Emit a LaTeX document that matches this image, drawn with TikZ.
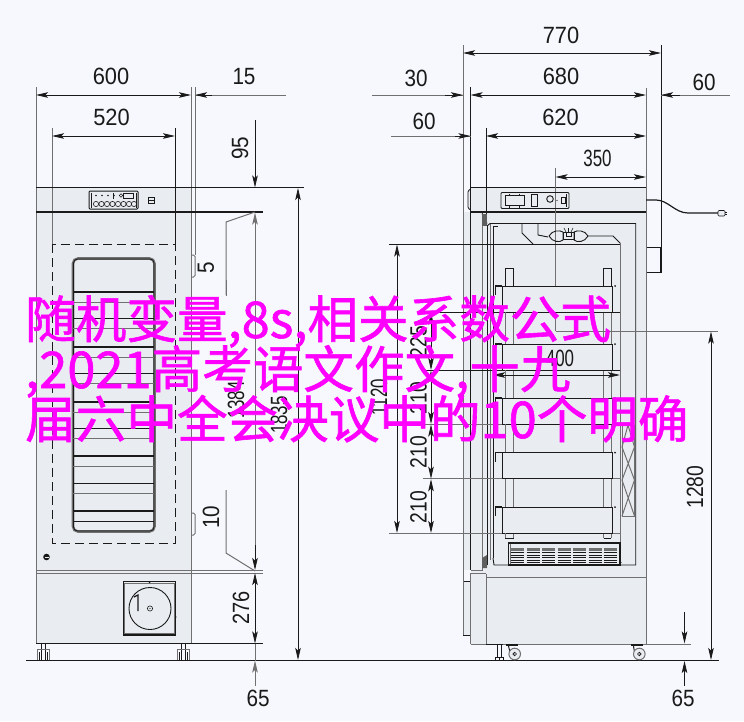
\documentclass[tikz,border=0pt]{standalone}
\usepackage{fontspec}
\usetikzlibrary{arrows.meta}
\newfontfamily\dimfont{Liberation Sans}
\newfontfamily\cjkfont[FakeBold=1.2]{Noto Sans CJK SC}
\definecolor{bgc}{HTML}{F6F8FD}
\definecolor{bodyc}{HTML}{E9EDF1}
\definecolor{inkc}{HTML}{1A1A1A}
\definecolor{grayc}{HTML}{707070}
\definecolor{magc}{HTML}{FF00FF}
\newcommand{\dimtxt}[2][.93]{\scalebox{#1}[1]{\dimfont\fontsize{23.5}{24}\selectfont #2}}
\tikzset{
  x=1pt,y=-1pt,
  ink/.style={draw=inkc,line width=.9pt},
  inkthick/.style={draw=inkc,line width=2pt},
  gline/.style={draw=grayc,line width=1pt},
  fine/.style={draw=inkc,line width=.6pt},
  bodyfill/.style={fill=bodyc,draw=none},
  darr/.style={draw=inkc,line width=.8pt,{Stealth[length=12pt,width=5.5pt,inset=2.5pt]}-{Stealth[length=12pt,width=5.5pt,inset=2.5pt]}},
  arrend/.style={draw=inkc,line width=.8pt,-{Stealth[length=12pt,width=5.5pt,inset=2.5pt]}},
  garrend/.style={draw=grayc,line width=.9pt,-{Stealth[length=12pt,width=5.5pt,inset=2.5pt]}},
  dimlabel/.style={inner sep=0pt,text=inkc},
  vlabel/.style={inner sep=0pt,text=inkc,rotate=90},
  overlay text/.style={inner sep=0pt,anchor=base west,text=magc,font=\cjkfont\fontsize{50.6}{53}\selectfont},
}
\begin{document}
\begin{tikzpicture}
\useasboundingbox (0,0) rectangle (744,721);
\fill[bgc] (0,0) rectangle (744,721);

%% ---------- LEFT VIEW: bodies ----------
\fill[bodyfill] (36,187.5) rectangle (191,643.5);
% extension lines
\draw[gline] (36,87) -- (36,643.5);
\draw[gline] (52,128) -- (52,244);
\draw[ink] (175,128) -- (175,244);
\draw[gline] (191,87) -- (191,643.5);
\draw[gline] (195,87) -- (195,255);
% handles
\draw[gline,rounded corners=1.5pt] (191,255) -- (195,255) -- (195,277) -- (191,277);
\draw[gline,rounded corners=1.5pt] (191,513) -- (195,513) -- (195,535) -- (191,535);
% horizontal body lines
\draw[ink] (36,187.5) -- (304,187.5);
\draw[inkthick] (36,212) -- (263,212);
\draw[gline] (36,570) -- (263,570);
\draw[gline] (36,573) -- (263,573);
\draw[ink] (36,643.5) -- (263,643.5);
% dashed
\draw[fine,line width=.8pt,dash pattern=on 9pt off 5pt] (52,244) rectangle (175,543);
% window
\draw[draw=grayc,line width=2.6pt,rounded corners=5pt] (73,258.5) rectangle (154.5,531.5);
\draw[draw=inkc,line width=.8pt,rounded corners=4pt] (73.5,259) rectangle (154,531);
\foreach \y in {292,347,402,456,511}{
  \draw[inkc,line width=1.2pt] (73,\y) -- (154,\y);
  \draw[grayc,line width=.8pt] (73,\y+10) -- (154,\y+10);
}
\foreach \y in {318,373,428,483}{
  \draw[ink] (73,\y) -- (154,\y);
  \draw[grayc,line width=.8pt] (73,\y+10) -- (154,\y+10);
}
\draw[ink] (73,521) -- (154,521);
% panel
\draw[draw=inkc,line width=1pt,rounded corners=1pt,fill=bodyc] (89,191) rectangle (138,209);
\draw[fine] (91,192.5) -- (91,207.5) (136,192.5) -- (136,207.5);
\foreach \x in {96,102,108,114}{\fill[inkc] (\x,195.5) circle (.8);}
\draw[fine] (113.5,193) -- (113.5,199);
\draw[fine] (121,195.5) circle (1.8);
\draw[fine] (123.5,193) rectangle (133.5,198.5);
\foreach \x in {96,101.5,107,112.5,118,123.5,129,134}{\draw[fine] (\x,204) circle (2.6);}
\draw[fine] (148.5,197) rectangle (154,203.5) (148.5,200) -- (154,200);
% screw
\fill[inkc] (46.5,557) circle (3.3);
\fill[bodyc] (44.5,556.5) rectangle (48.5,557.5);
% door lower square
\draw[draw=inkc,line width=1.2pt] (123.5,581.5) rectangle (175.5,635);
\draw[draw=grayc,line width=.8pt] (124.8,583) rectangle (174.2,633.5);
\draw[ink] (150,608.5) circle (21);
\draw[fine] (150,608.5) circle (2.6);
\fill[inkc] (150,608.5) circle (.7);
\draw[draw=inkc,line width=1.2pt] (134,597) -- (138,595) -- (138,611);
\fill[inkc] (149.5,582) circle (1);
\fill[inkc] (176,617) circle (.7);
% feet
\foreach \x in {43.5,183}{
  \draw[fine] (\x-2,644) -- (\x-2,660) (\x+2,644) -- (\x+2,660);
  \draw[draw=grayc,line width=.8pt] (\x-6,649) rectangle (\x+6,660);
  \draw[fine] (\x-4,652) -- (\x-4,660) (\x+4,652) -- (\x+4,660);
}
% floor
\draw[ink] (26,660.5) -- (719,660.5);
% left view dimensions
\draw[darr] (36,95) -- (191,95);
\draw[gline] (195,95) -- (286,95);
\draw[arrend] (212,95) -- (195,95);
\draw[darr] (52,136) -- (175,136);
\draw[arrend] (255,120) -- (255,187.5);
\draw[garrend] (255,240) -- (255,212.5);
\draw[gline] (255,240) -- (255,560);
\draw[arrend] (255,545) -- (255,570);
\draw[darr] (255,573) -- (255,643.5);
\draw[gline] (255,643.5) -- (255,660.5);
\draw[garrend] (255,686) -- (255,660.5);
\draw[arrend] (298,200) -- (298,188);
\draw[arrend] (298,200) -- (298,660);
\draw[gline] (255,212) -- (226,222) -- (226,295);
\draw[gline] (226,490) -- (226,553) -- (255,571);
\draw[gline] (226,280) -- (226,296);

%% ---------- RIGHT VIEW ----------
\fill[bodyfill] (470.5,187.5) rectangle (646,644);
\fill[bodyfill] (463,212) rectangle (470.5,635);
\fill[bgc] (463,570) rectangle (470.5,581);
\draw[ink] (463,581) -- (470.5,581);
\draw[ink] (463,635) -- (470.5,635);
% cabinet top
\draw[ink] (470.5,187.5) -- (646,187.5);
\draw[inkthick] (470.5,212) -- (646,212);
\draw[draw=inkc,line width=.8pt,rounded corners=1pt,fill=bodyc] (470.5,189) -- (468,191) -- (468,208) -- (470.5,210);
% vertical extension lines
\draw[gline] (463,45) -- (463,635);
\draw[ink] (661,45) -- (661,272.5);
\draw[ink] (470.5,87) -- (470.5,570);
\draw[gline] (646,88) -- (646,644);
\draw[ink] (486,128) -- (486,224);
\draw[gline] (555.5,168) -- (555.5,331);
\draw[gline] (646,168) -- (646,187);
% door
\draw[gline] (482,213) -- (482,570) -- (470.5,570);
\draw[gline] (470.5,573) -- (470.5,644);
\draw[gline] (486,574) -- (486,644);
\draw[draw=grayc,line width=1pt] (470.5,573) -- (486,573);
\draw[gline] (486,577) -- (646,577);
\draw[gline] (470.5,644) -- (646,644);
\draw[gline] (646,644) -- (691,644);
\draw[ink] (486,644) -- (495,644);
% panel
\draw[draw=inkc,line width=.9pt,rounded corners=1pt] (501,192.5) rectangle (569,208.5);
\draw[draw=inkc,line width=.9pt] (505,195.5) rectangle (524,205.5);
\draw[fine] (509,193.5) -- (509,195.5) (519,193.5) -- (519,195.5) (509,205.5) -- (509,207.5) (519,205.5) -- (519,207.5);
\draw[draw=inkc,line width=.9pt] (531,194.5) rectangle (537.5,206);
\draw[ink] (550,199) circle (3.3);
\fill[inkc] (557,200.5) circle (.7);
\draw[fine] (561,197.5) rectangle (565,203.5);
\draw[fine] (566.5,194) -- (566.5,207);
% cord
\draw[draw=inkc,line width=1.2pt] (646,200) -- (656,200) .. controls (668,200) and (675,213) .. (688,213) -- (718,213);
\draw[fine,fill=bodyc,rounded corners=1pt] (718,210.5) rectangle (725,216);
\draw[fine] (725,212) -- (727,212) (725,214.5) -- (727,214.5);
% right side box
\draw[inkc,line width=1.2pt] (646,247.5) -- (661,247.5) -- (661,272.5) -- (646,272.5);
\draw[gline] (646,235) -- (646,285);
% cavity
\draw[ink] (490,223.5) -- (635.7,223.5) -- (635.7,565) -- (494,565) -- (493,558);
\draw[ink] (493,226) -- (493,558);
\draw[ink] (487,225) -- (487,565);
\draw[gline] (490,223.5) -- (490,560);
\draw[ink] (482,213.5) -- (487,223.5);
\fill[inkc!70] (482,214) rectangle (487,226);
\draw[ink] (487,226) -- (490,223.5);
\fill[inkc!70] (482,558) -- (487,555) -- (487,568) -- (482,568) -- cycle;
\draw[ink] (493,226) -- (498,226);
\draw[gline] (620,243) -- (620,565);
% lamp
\draw[ink] (522,224) -- (522,233) -- (533,244);
\draw[ink] (538,224) -- (538,235) -- (548,237);
\draw[ink] (549,236) .. controls (552,230) and (560,230) .. (563,232) -- (563,240) .. controls (560,243) and (552,242) .. (549,236);
\draw[ink] (588,236) .. controls (585,230) and (577,230) .. (574,232) -- (574,240) .. controls (577,243) and (585,242) .. (588,236);
\draw[ink] (563,232) rectangle (574,239);
\draw[fine] (566,232) -- (566,236) -- (571,236) -- (571,232);
\draw[fine] (564,228) -- (566,232) (573,228) -- (571,232) (568.5,228) -- (568.5,232);
\draw[ink] (588,236) -- (613,236) -- (620,243);
% extension lines for shelves
\draw[ink] (389,244) -- (620,244);
\draw[ink] (423,312) -- (620,312);
\draw[ink] (423,370) -- (620,370);
\draw[gline] (423,424) -- (620,424);
\draw[gline] (423,478.7) -- (620,478.7);
\draw[gline] (389,533) -- (620,533);
% posts
\foreach \x in {505.3,513.7,603.7,611.3}{\draw[ink] (\x,268) -- (\x,286); \draw[gline] (\x,286) -- (\x,538);}
\draw[ink] (505.3,268) -- (513.7,268) (603.7,268) -- (611.3,268);
\draw[ink] (505.3,538) -- (513.7,538) (603.7,538) -- (611.3,538);
% shelves
\foreach \t/\b in {286/312,344/370,398/424,452.7/478.7,507/533}{
  \draw[ink,fill=bodyc] (502,\t) rectangle (612.7,\b);
  \draw[inkc,line width=1.1pt] (495.5,\t+9) -- (495.5,\t) -- (502,\t);
  \fill[inkc] (615,\t) circle (1);
  \draw[gline] (505.3,\b) -- (505.3,\b+2);
}
% louver
\draw[draw=inkc,line width=1.1pt,fill=bodyc] (508.7,543) rectangle (620,565);
\draw[gline] (510.5,544) -- (510.5,564);
\foreach \x in {517,533,548.5,564,579.5,595,610}{
  \fill[grayc] (\x-6.5,548) rectangle (\x+6.5,550.5);
  \foreach \y in {552.5,555,557.5,560,562.5}{
    \draw[draw=inkc,line width=.8pt] (\x-6.5,\y) -- (\x+6.5,\y);
  }
}
\fill[inkc] (621,562.5) circle (.6);
% x-brace
\draw[gline] (622,425) -- (622,516) (634.5,425) -- (634.5,516);
\draw[gline] (622,516) -- (634.5,516);
\draw[gline] (622,447) -- (634.5,480) (634.5,447) -- (622,480);
\draw[gline] (622,480) -- (634.5,516) (634.5,480) -- (622,516);
\draw[gline] (622,447) -- (628,425) -- (634.5,447);
% adjuster foot and casters
\draw[fine] (495,644.5) -- (503,644.5);
\draw[ink] (497,644) -- (497,657) (501.5,644) -- (501.5,657);
\draw[fine] (495,657) rectangle (503,660.5);
\draw[fine] (499,657) -- (499,660.5);
\foreach \x/\s in {514.7/505.5,639.3/630.5}{
  \draw[inkc,line width=1.4pt] (\s,645) -- (\s+12,645);
  \draw[inkc,line width=1pt] (\s+3,646) -- (\x-5,651);
  \draw[draw=grayc,line width=1pt,fill=bodyc] (\x,654) circle (5.8);
  \draw[fine] (\x,654) circle (1.8);
  \fill[inkc] (\x,654) circle (.5);
}
% right view dimensions
\draw[darr] (463,53) -- (661,53);
\draw[gline] (372,95) -- (463,95);
\draw[arrend] (445,95) -- (463,95);
\draw[darr] (470.5,95) -- (646,95);
\draw[gline] (661,95) -- (730,95);
\draw[arrend] (680,95) -- (661,95);
\draw[gline] (391,136) -- (470.5,136);
\draw[arrend] (455,136) -- (470.5,136);
\draw[darr] (486,136) -- (646,136);
\draw[darr] (555.5,177) -- (646,177);
\draw[darr] (397,244.5) -- (397,533);
\draw[darr] (431,312.5) -- (431,370);
\draw[darr] (431,370.5) -- (431,424);
\draw[darr] (431,424.5) -- (431,478.7);
\draw[darr] (431,479.2) -- (431,533);
\draw[gline] (555.5,331) -- (718,331);
\draw[darr] (711,331.5) -- (711,660);
\draw[darr] (493,375) -- (620,375);
\draw[arrend] (684.5,612) -- (684.5,643.5);
\draw[arrend] (684.5,686) -- (684.5,661);

%% ---------- dimension labels ----------
\node[dimlabel] (d600) at (111,76.5) {\dimtxt{600}};
\node[dimlabel] (d15) at (244,76.5) {\dimtxt[.88]{15}};
\node[dimlabel] (d520) at (111.5,117.5) {\dimtxt{520}};
\node[vlabel] (d95) at (240,148) {\dimtxt[.88]{95}};
\node[vlabel] (d5) at (206,268) {\dimtxt[.88]{5}};
\node[vlabel] (d10) at (211,517) {\dimtxt[.88]{10}};
\node[vlabel] (d276) at (241,608) {\dimtxt[.85]{276}};
\node[vlabel] (d1384) at (236,400) {\dimtxt[.72]{1384}};
\node[vlabel] (d1835) at (279,415) {\dimtxt[.72]{1835}};
\node[dimlabel] (d65a) at (258,698.5) {\dimtxt[.88]{65}};
\node[dimlabel] (d770) at (561,35) {\dimtxt{770}};
\node[dimlabel] (d680) at (561,76.5) {\dimtxt{680}};
\node[dimlabel] (d620) at (560.5,117.5) {\dimtxt{620}};
\node[dimlabel] (d350) at (597.5,158.5) {\dimtxt[.72]{350}};
\node[dimlabel] (d30) at (416,78.5) {\dimtxt[.88]{30}};
\node[dimlabel] (d60a) at (424,121) {\dimtxt[.88]{60}};
\node[dimlabel] (d60b) at (704,82) {\dimtxt[.88]{60}};
\node[vlabel] (d1120) at (379,397) {\dimtxt[.72]{1120}};
\node[vlabel] (d225) at (418.5,342) {\dimtxt[.82]{225}};
\node[vlabel] (d210a) at (418.5,398) {\dimtxt[.82]{210}};
\node[vlabel] (d210b) at (418.5,452) {\dimtxt[.82]{210}};
\node[vlabel] (d210c) at (418.5,507) {\dimtxt[.82]{210}};
\node[dimlabel] (d400) at (560,358) {\dimtxt[.72]{400}};
\node[vlabel] (d1280) at (695,487) {\dimtxt[.82]{1280}};
\node[dimlabel] (d65b) at (683,698.5) {\dimtxt[.88]{65}};

%% ---------- overlaid text ----------
\node[overlay text] (t1) at (25,338) {随机变量,8s,相关系数公式};
\node[overlay text] (t2) at (25,388) {,2021高考语文作文,十九};
\node[overlay text] (t3) at (25,438) {届六中全会决议中的10个明确};
\end{tikzpicture}
\end{document}
